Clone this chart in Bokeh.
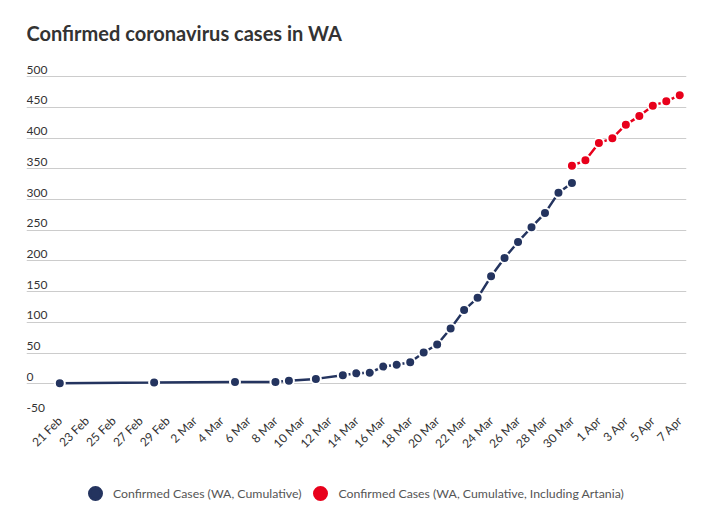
import math
import pandas as pd
from bokeh.plotting import figure
from bokeh.layouts import column
from bokeh.models import (Range1d, FixedTicker, LabelSet, Label, ColumnDataSource,
                          Legend, LegendItem)
from bokeh.core.properties import value
from bokeh.embed import file_html
from bokeh.resources import INLINE

# ---------------- data ----------------
title_text = "Confirmed coronavirus cases in WA"
start_date = "2020-02-21"

wa_dates = ["2020-02-21", "2020-02-28", "2020-03-05", "2020-03-08", "2020-03-09",
            "2020-03-11", "2020-03-13", "2020-03-14", "2020-03-15", "2020-03-16",
            "2020-03-17", "2020-03-18", "2020-03-19", "2020-03-20", "2020-03-21",
            "2020-03-22", "2020-03-23", "2020-03-24", "2020-03-25", "2020-03-26",
            "2020-03-27", "2020-03-28", "2020-03-29", "2020-03-30"]
wa_cases = [1, 2, 3, 3, 5, 8, 14, 17, 18, 28, 31, 35, 51, 64, 90, 120, 140, 175,
            205, 231, 255, 278, 311, 327]

art_dates = ["2020-03-30", "2020-03-31", "2020-04-01", "2020-04-02", "2020-04-03",
             "2020-04-04", "2020-04-05", "2020-04-06", "2020-04-07"]
art_cases = [355, 364, 392, 400, 422, 436, 453, 460, 470]

x_tick_dates = ["2020-02-21", "2020-02-23", "2020-02-25", "2020-02-27", "2020-02-29",
                "2020-03-02", "2020-03-04", "2020-03-06", "2020-03-08", "2020-03-10",
                "2020-03-12", "2020-03-14", "2020-03-16", "2020-03-18", "2020-03-20",
                "2020-03-22", "2020-03-24", "2020-03-26", "2020-03-28", "2020-03-30",
                "2020-04-01", "2020-04-03", "2020-04-05", "2020-04-07"]
x_tick_labels = ["21 Feb", "23 Feb", "25 Feb", "27 Feb", "29 Feb", "2 Mar", "4 Mar",
                 "6 Mar", "8 Mar", "10 Mar", "12 Mar", "14 Mar", "16 Mar", "18 Mar",
                 "20 Mar", "22 Mar", "24 Mar", "26 Mar", "28 Mar", "30 Mar", "1 Apr",
                 "3 Apr", "5 Apr", "7 Apr"]
y_ticks = [-50, 0, 50, 100, 150, 200, 250, 300, 350, 400, 450, 500]
y_tick_labels = [str(v) for v in y_ticks]

series_names = ["Confirmed Cases (WA, Cumulative)",
                "Confirmed Cases (WA, Cumulative, Including Artania)"]

# ---------------- style ----------------
NAVY = "#24345f"
RED = "#e8001b"
FONT = "Lato"

t0 = pd.Timestamp(start_date)
def to_day(ds):
    return [(pd.Timestamp(d) - t0).days for d in ds]

wa_x = to_day(wa_dates)
art_x = to_day(art_dates)
tick_x = to_day(x_tick_dates)


def strip(height):
    f = figure(width=700, height=height, output_backend="svg", toolbar_location=None,
               x_range=Range1d(0, 1), y_range=Range1d(0, 1), title=None,
               min_border_left=26, min_border_right=14, min_border_top=0,
               min_border_bottom=0)
    f.axis.visible = False
    f.grid.visible = False
    f.outline_line_color = None
    return f


# title strip
tf = strip(50)
tf.add_layout(Label(x=0, y=17.5, x_units="screen", y_units="screen",
                    text=title_text, text_font=FONT, text_font_size="20px",
                    text_font_style="bold", text_color="#333333",
                    text_baseline="alphabetic", text_align="left"))

# main chart
p = figure(width=700, height=420, output_backend="svg", toolbar_location=None,
           x_range=Range1d(-2.47, 46.5), y_range=Range1d(-50, 520), title=None,
           min_border_left=26, min_border_right=14, min_border_top=14,
           min_border_bottom=56)
p.outline_line_color = None
p.background_fill_color = "white"
p.border_fill_color = "white"

p.yaxis.visible = False
p.yaxis.ticker = FixedTicker(ticks=y_ticks)
p.ygrid.ticker = FixedTicker(ticks=y_ticks)
p.ygrid.grid_line_color = "#cccccc"
p.ygrid.grid_line_width = 1
p.xgrid.visible = False

xa = p.xaxis[0]
xa.ticker = FixedTicker(ticks=tick_x)
xa.major_label_overrides = {t: lab for t, lab in zip(tick_x, x_tick_labels)}
xa.major_label_orientation = math.pi / 4
xa.axis_line_color = None
xa.major_tick_line_color = None
xa.minor_tick_line_color = None
xa.major_tick_out = 0
xa.major_tick_in = 0
xa.major_label_standoff = 4
xa.major_label_text_font = FONT
xa.major_label_text_font_size = "12px"
xa.major_label_text_color = "#333333"

# y labels above grid lines at the frame's left edge
ysrc = ColumnDataSource(dict(y=y_ticks, text=y_tick_labels))
ylabels = LabelSet(x=0, y="y", text="text", source=ysrc, x_units="screen",
                   y_units="data", y_offset=3, text_baseline="bottom",
                   text_align="left", text_font=value(FONT), text_font_size="12px",
                   text_color="#333333")
p.add_layout(ylabels)

# series
p.line(wa_x, wa_cases, line_color=NAVY, line_width=2.5)
p.scatter(wa_x, wa_cases, size=10, fill_color=NAVY, line_color="white", line_width=2)
p.line(art_x, art_cases, line_color=RED, line_width=2.5)
p.scatter(art_x, art_cases, size=10, fill_color=RED, line_color="white", line_width=2)

# legend strip
lf = strip(38)
# proxy renderers for the legend swatches (their point lies outside lf's ranges)
leg_navy = lf.scatter([wa_x[-1]], [wa_cases[-1]], fill_color=NAVY,
                      line_color=NAVY, line_width=3)
leg_red = lf.scatter([art_x[-1]], [art_cases[-1]], fill_color=RED,
                     line_color=RED, line_width=3)

legend = Legend(items=[LegendItem(label=series_names[0], renderers=[leg_navy]),
                       LegendItem(label=series_names[1], renderers=[leg_red])],
                orientation="horizontal", location=(54, 0),
                glyph_width=30, glyph_height=30, label_standoff=3, spacing=4,
                padding=0, margin=0, border_line_color=None,
                background_fill_alpha=0, label_text_font=FONT,
                label_text_font_size="12.3px", label_text_color="#555555",
                label_text_baseline="middle")
lf.add_layout(legend, "center")

open("out.html", "w").write(file_html(column(tf, p, lf, spacing=0), INLINE))
